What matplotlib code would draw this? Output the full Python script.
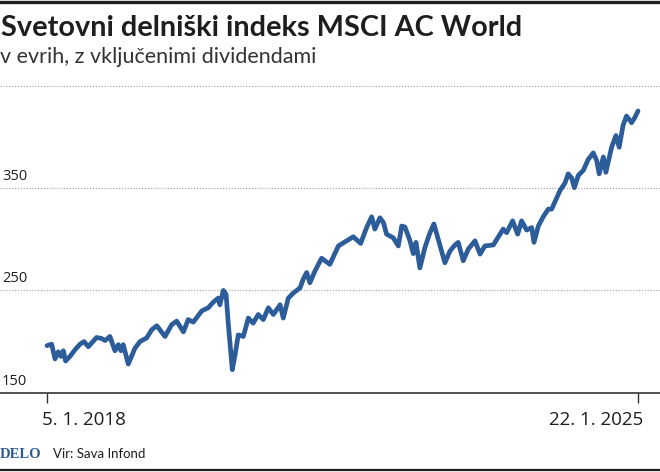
import datetime as dt
import matplotlib
matplotlib.use("Agg")
import matplotlib.pyplot as plt
import matplotlib.transforms as mtransforms
from matplotlib.lines import Line2D

# MSCI AC World (EUR, net dividends)
dates = [
    "2018-01-05", "2018-01-25", "2018-02-09", "2018-02-23", "2018-03-07", "2018-03-17",
    "2018-03-27", "2018-04-15", "2018-05-07", "2018-05-29", "2018-06-15", "2018-07-04",
    "2018-08-09", "2018-08-31", "2018-09-15", "2018-10-06", "2018-10-28", "2018-11-12",
    "2018-11-23", "2018-12-03", "2018-12-25", "2019-01-23", "2019-02-14", "2019-03-15",
    "2019-04-06", "2019-04-28", "2019-06-03", "2019-07-02", "2019-07-24", "2019-08-22",
    "2019-09-12", "2019-10-04", "2019-11-10", "2019-12-08", "2019-12-30", "2020-01-21",
    "2020-01-28", "2020-02-12", "2020-02-24", "2020-03-05", "2020-03-22", "2020-04-03",
    "2020-04-17", "2020-05-09", "2020-05-31", "2020-06-21", "2020-07-13", "2020-08-04",
    "2020-08-26", "2020-09-17", "2020-10-16", "2020-10-30", "2020-11-21", "2020-12-13",
    "2021-01-11", "2021-01-25", "2021-02-09", "2021-02-23", "2021-03-17", "2021-04-15",
    "2021-05-21", "2021-06-27", "2021-08-02", "2021-08-31", "2021-10-02", "2021-10-28",
    "2021-11-19", "2021-12-03", "2021-12-25", "2022-01-09", "2022-01-23", "2022-02-21",
    "2022-03-15", "2022-03-30", "2022-04-13", "2022-05-05", "2022-05-19", "2022-05-31",
    "2022-06-17", "2022-07-09", "2022-07-31", "2022-08-17", "2022-09-05", "2022-10-04",
    "2022-10-26", "2022-11-17", "2022-12-01", "2022-12-23", "2023-01-14", "2023-02-12",
    "2023-03-06", "2023-03-27", "2023-05-03", "2023-06-01", "2023-06-15", "2023-06-30",
    "2023-07-26", "2023-08-17", "2023-09-03", "2023-09-25", "2023-10-17", "2023-10-27",
    "2023-11-15", "2023-12-06", "2023-12-28", "2024-01-12", "2024-02-17", "2024-03-10",
    "2024-03-24", "2024-04-08", "2024-04-20", "2024-05-07", "2024-05-29", "2024-06-19",
    "2024-07-11", "2024-07-26", "2024-08-06", "2024-08-24", "2024-09-04", "2024-09-29",
    "2024-10-18", "2024-11-01", "2024-11-18", "2024-12-03", "2024-12-25", "2025-01-08",
    "2025-01-22",
]
values = [
    196, 197.5, 183, 190, 185.5, 191, 181, 185.5, 192, 197.5, 200, 195,
    204, 203, 201, 205, 191, 197, 191, 197, 178, 193.5, 200, 203.5,
    211.5, 215.5, 205, 216.5, 220, 209.5, 221.5, 219, 230, 233, 238.5, 242.5,
    236, 250, 246, 216.5, 172.5, 187, 206.5, 205, 223, 218, 226.5, 221.5,
    233, 226.5, 236, 223, 242.5, 247.5, 252.5, 261, 267.5, 257.5, 269, 281.5,
    275.5, 293.5, 298.5, 302.5, 296, 311.5, 322, 310, 321, 316.5, 305, 301.5,
    293.5, 313, 312, 298.5, 286, 297, 272, 292, 306.5, 315, 300, 277,
    288.5, 294.5, 297, 279, 290.5, 298.5, 285.5, 293.5, 294.5, 305, 310, 306.5,
    318, 305, 318, 309, 311.5, 297, 313, 322, 329.5, 329.5, 347.5, 355,
    364, 360, 350.5, 362.5, 367.5, 378, 384.5, 377, 364, 380.5, 365.5, 390,
    401.5, 390, 411.5, 420.5, 414, 419, 425.5,
]

grid_values = [250, 350, 450]
y_labels = ["150", "250", "350"]
x_tick_dates = ["2018-01-05", "2025-01-22"]
x_tick_labels = ["5. 1. 2018", "22. 1. 2025"]

title = "Svetovni delniški indeks MSCI AC World"
subtitle = "v evrih, z vključenimi dividendami"
brand = "DELO"
source = "Vir: Sava Infond"

line_color = "#2c5c9a"
text_color = "#1e1e1e"

fig = plt.figure(figsize=(6.6, 4.72), dpi=100)
ax = fig.add_axes([0, 0.168, 1, 0.650])

x = [dt.datetime.strptime(d, "%Y-%m-%d") for d in dates]
ax.plot(x, values, color=line_color, lw=3.4, solid_joinstyle="round",
        solid_capstyle="round", clip_on=False, zorder=3)

t0 = dt.datetime.strptime(x_tick_dates[0], "%Y-%m-%d")
t1 = dt.datetime.strptime(x_tick_dates[1], "%Y-%m-%d")
per_px = (t1 - t0) / 591
ax.set_xlim(t0 - 47 * per_px, t1 + 22 * per_px)
ax.set_ylim(150, 450)

for s in ["top", "left", "right"]:
    ax.spines[s].set_visible(False)
ax.spines["bottom"].set_color("#444444")
ax.spines["bottom"].set_linewidth(1.3)

ax.set_yticks(grid_values)
ax.yaxis.grid(True, linestyle=(0, (1, 1.6)), color="#9a9a9a", lw=0.8)
ax.tick_params(axis="y", left=False, labelleft=False)

ax.set_xticks([t0, t1])
ax.set_xticklabels(x_tick_labels, fontsize=13.5, family="Open Sans", color=text_color)
ax.tick_params(axis="x", length=7, width=1, color="#333333", pad=6)
lab = ax.get_xticklabels()
lab[0].set_ha("left")
lab[0].set_transform(lab[0].get_transform() + mtransforms.ScaledTranslation(-5 / 100, 0, fig.dpi_scale_trans))
lab[1].set_ha("right")
lab[1].set_transform(lab[1].get_transform() + mtransforms.ScaledTranslation(5 / 100, 0, fig.dpi_scale_trans))

ylab_trans = mtransforms.blended_transform_factory(ax.transAxes, ax.transData)
for v, s in zip([150] + grid_values[:2], y_labels):
    ax.annotate(s, (0.003, v), xycoords=ylab_trans, xytext=(0, 3),
                textcoords="offset points", va="bottom", ha="left",
                fontsize=10.5, family="Open Sans", color=text_color)

fig.text(0.002, 1 - 35.7 / 472, title, fontsize=20.8, fontweight="bold",
         family="Lato", color=text_color, va="baseline")
fig.text(0.0, 1 - 63.3 / 472, subtitle, fontsize=15.5, fontweight="normal",
         family="Lato", color="#333333", va="baseline")
fig.text(0.0, 1 - 458 / 472, brand, fontsize=10.5, fontweight="bold",
         family="Liberation Serif", color="#2d5a94", va="baseline")
fig.text(53 / 660, 1 - 458 / 472, source, fontsize=9.5,
         family="Lato", color=text_color, va="baseline")

fig.add_artist(Line2D([0, 1], [1 - 1.5 / 472, 1 - 1.5 / 472], color="#231f20", lw=2.4))
fig.add_artist(Line2D([0, 1], [1 - 470 / 472, 1 - 470 / 472], color="#231f20", lw=1.6))

fig.savefig("out.png", dpi=100)
